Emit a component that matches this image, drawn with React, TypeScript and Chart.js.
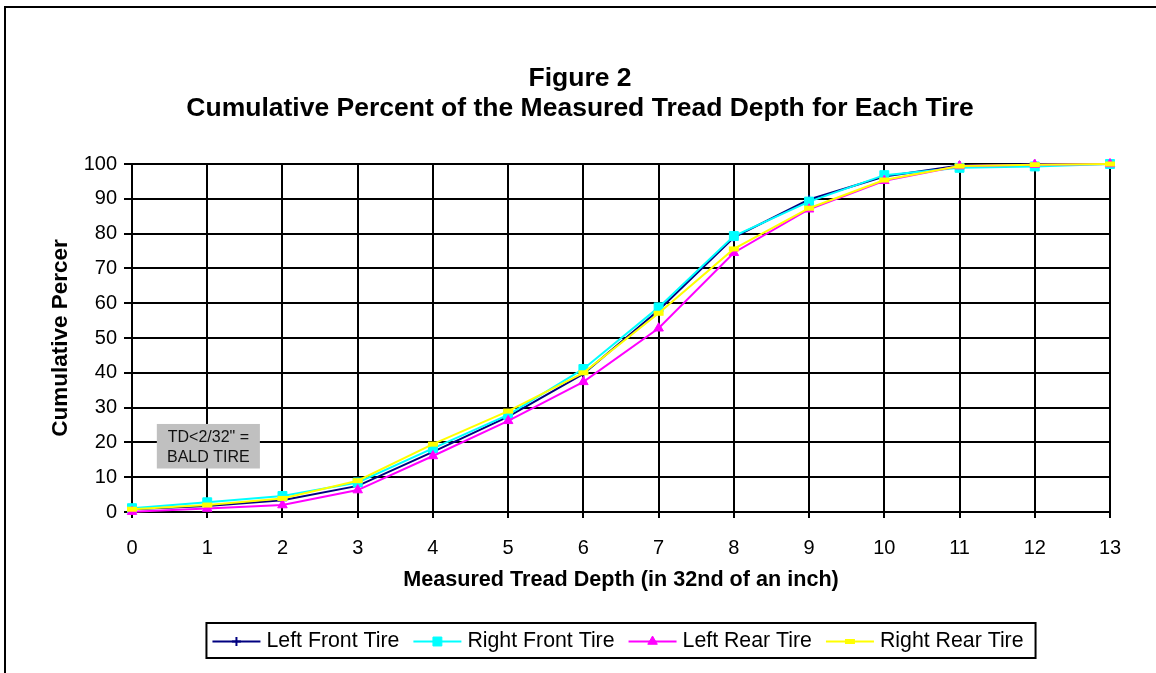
import React, { useEffect, useRef } from 'react';
import { Chart, registerables } from 'chart.js';
import { drawPoint } from 'chart.js/helpers';

Chart.register(...registerables);

// ---- data ----
const depths = ['0', '1', '2', '3', '4', '5', '6', '7', '8', '9', '10', '11', '12', '13'];
const leftFront = [0.8, 1.7, 3.4, 7.5, 17.3, 27.4, 39.7, 58.0, 78.9, 89.8, 96.4, 99.6, 99.9, 100];
const rightFront = [1.1, 2.8, 4.6, 8.5, 18.3, 27.9, 41.1, 58.8, 79.3, 89.2, 96.8, 98.9, 99.3, 100];
const leftRear = [0.1, 1.0, 2.0, 6.3, 16.1, 26.2, 37.4, 52.8, 74.5, 87.0, 95.2, 99.4, 99.8, 100];
const rightRear = [0.8, 2.0, 3.9, 9.0, 19.5, 29.0, 40.0, 57.1, 75.6, 87.3, 95.4, 99.4, 99.8, 100];

const seriesNames = ['Left Front Tire', 'Right Front Tire', 'Left Rear Tire', 'Right Rear Tire'];
const seriesColors = ['#000080', '#00FFFF', '#FF00FF', '#FFFF00'];

const yMin = 0;
const yMax = 100;
const yStep = 10;

const titleLines = ['Figure 2', 'Cumulative Percent of the Measured Tread Depth for Each Tire'];
const yTitle = 'Cumulative Percer';
const xTitle = 'Measured Tread Depth (in 32nd of an inch)';
const noteLines = ['TD<2/32" =', 'BALD TIRE'];
// note box anchored in data units: [xFrom, xTo], [yFrom, yTo]
const noteXRange = [0.33, 1.7];
const noteYRange = [12.5, 25.3];

const FONT = '"Liberation Sans", Arial, Helvetica, sans-serif';

const pointStyles: any[] = [
  { pointStyle: 'cross', radius: 4.5, borderWidth: 2 },
  { pointStyle: 'rect', radius: 6.3, borderWidth: 1 },
  { pointStyle: 'triangle', radius: 5.5, borderWidth: 1 },
  { pointStyle: 'line', radius: 5, borderWidth: 5 },
];

const frameAndExtras = {
  id: 'frameAndExtras',
  afterDraw(chart: any) {
    const ctx = chart.ctx as CanvasRenderingContext2D;
    const area = chart.chartArea;
    const xs = chart.scales.x;
    const ys = chart.scales.y;
    ctx.save();
    // outer frame (left + top)
    ctx.fillStyle = '#000';
    ctx.fillRect(4, 6, chart.width - 4, 2);
    ctx.fillRect(4, 6, 2, chart.height - 6);

    // note box
    const bx0 = xs.getPixelForValue(noteXRange[0]);
    const bx1 = xs.getPixelForValue(noteXRange[1]);
    const by0 = ys.getPixelForValue(noteYRange[1]);
    const by1 = ys.getPixelForValue(noteYRange[0]);
    ctx.fillStyle = '#C0C0C0';
    ctx.fillRect(bx0, by0, bx1 - bx0, by1 - by0);
    ctx.fillStyle = '#111';
    ctx.font = `16px ${FONT}`;
    ctx.textAlign = 'center';
    ctx.textBaseline = 'middle';
    const cx = (bx0 + bx1) / 2;
    const h = by1 - by0;
    ctx.fillText(noteLines[0], cx, by0 + h * 0.3);
    ctx.fillText(noteLines[1], cx, by0 + h * 0.76);

    // legend
    ctx.font = `21.3px ${FONT}`;
    const lineLen = 48;
    const gapA = 6;
    const gapB = 14;
    const padL = 6;
    const padR = 12;
    const widths = seriesNames.map((n) => ctx.measureText(n).width);
    let total = padL + padR;
    widths.forEach((w, i) => {
      total += lineLen + gapA + w + (i < widths.length - 1 ? gapB : 0);
    });
    const centerX = (area.left + area.right) / 2;
    const boxTop = chart.height - 50;
    const boxH = 35;
    let x = centerX - total / 2;
    ctx.lineWidth = 2;
    ctx.strokeStyle = '#000';
    ctx.strokeRect(x, boxTop, total, boxH);
    x += padL;
    const cy = boxTop + boxH / 2 + 1;
    seriesNames.forEach((name, i) => {
      ctx.strokeStyle = seriesColors[i];
      ctx.fillStyle = seriesColors[i];
      ctx.lineWidth = 2;
      ctx.beginPath();
      ctx.moveTo(x, cy);
      ctx.lineTo(x + lineLen, cy);
      ctx.stroke();
      const ps = pointStyles[i];
      ctx.lineWidth = ps.borderWidth;
      drawPoint(ctx, { pointStyle: ps.pointStyle, radius: ps.radius, rotation: 0, borderWidth: ps.borderWidth } as any, x + lineLen / 2, cy);
      x += lineLen + gapA;
      ctx.fillStyle = '#000';
      ctx.textAlign = 'left';
      ctx.textBaseline = 'middle';
      ctx.fillText(name, x, cy);
      x += widths[i] + gapB;
    });
    ctx.restore();
  },
};

export default function App() {
  const ref = useRef<HTMLCanvasElement | null>(null);

  useEffect(() => {
    if (!ref.current) return;
    const series = [leftFront, rightFront, leftRear, rightRear];
    const chart = new Chart(ref.current, {
      type: 'line',
      data: {
        labels: depths,
        datasets: series.map((d, i) => ({
          label: seriesNames[i],
          data: d,
          borderColor: seriesColors[i],
          backgroundColor: seriesColors[i],
          borderWidth: 2,
          pointStyle: pointStyles[i].pointStyle,
          pointRadius: pointStyles[i].radius,
          pointBorderWidth: pointStyles[i].borderWidth,
          pointBackgroundColor: seriesColors[i],
          pointBorderColor: seriesColors[i],
          tension: 0,
          fill: false,
          clip: false as any,
          order: series.length - 1 - i,
        })),
      },
      options: {
        animation: false,
        responsive: false,
        maintainAspectRatio: false,
        layout: { padding: { left: 4, right: 0, top: 0, bottom: 0 } },
        plugins: {
          legend: { display: false },
          tooltip: { enabled: false },
          title: {
            display: true,
            text: titleLines,
            color: '#000',
            font: { family: FONT, size: 26.5, weight: 'bold', lineHeight: 30 / 26.5 },
            padding: { top: 64, bottom: 40 },
          },
        },
        scales: {
          x: {
            type: 'category',
            offset: false,
            afterFit: (s: any) => {
              s.height = 161;
            },
            grid: { color: '#000', lineWidth: 2, tickLength: 6, drawTicks: true, offset: false },
            border: { color: '#000', width: 2 },
            ticks: { color: '#000', font: { family: FONT, size: 20 }, padding: 18, maxRotation: 0, autoSkip: false },
            title: {
              display: true,
              text: xTitle,
              color: '#000',
              font: { family: FONT, size: 21.6, weight: 'bold' },
              padding: { top: 0, bottom: 80 },
            },
          },
          y: {
            type: 'linear',
            min: yMin,
            max: yMax,
            afterFit: (s: any) => {
              s.width = 128;
            },
            grid: { color: '#000', lineWidth: 2, tickLength: 8 },
            border: { color: '#000', width: 2 },
            ticks: { stepSize: yStep, color: '#000', font: { family: FONT, size: 20 }, padding: 7 },
            title: {
              display: true,
              text: yTitle,
              color: '#000',
              font: { family: FONT, size: 22.5, weight: 'bold' },
              padding: { top: 43, bottom: 0 },
            },
          },
          y2: {
            type: 'linear',
            position: 'right',
            display: true,
            afterFit: (s: any) => {
              s.width = 46;
            },
            grid: { display: false, drawTicks: false },
            border: { display: false },
            ticks: { display: false },
          },
        },
      } as any,
      plugins: [frameAndExtras],
    });
    return () => chart.destroy();
  }, []);

  return (
    <div style={{ position: 'absolute', left: 0, top: 0, width: 1156, height: 673, background: '#fff' }}>
      <canvas ref={ref} width={1156} height={673} style={{ display: 'block' }} />
    </div>
  );
}
